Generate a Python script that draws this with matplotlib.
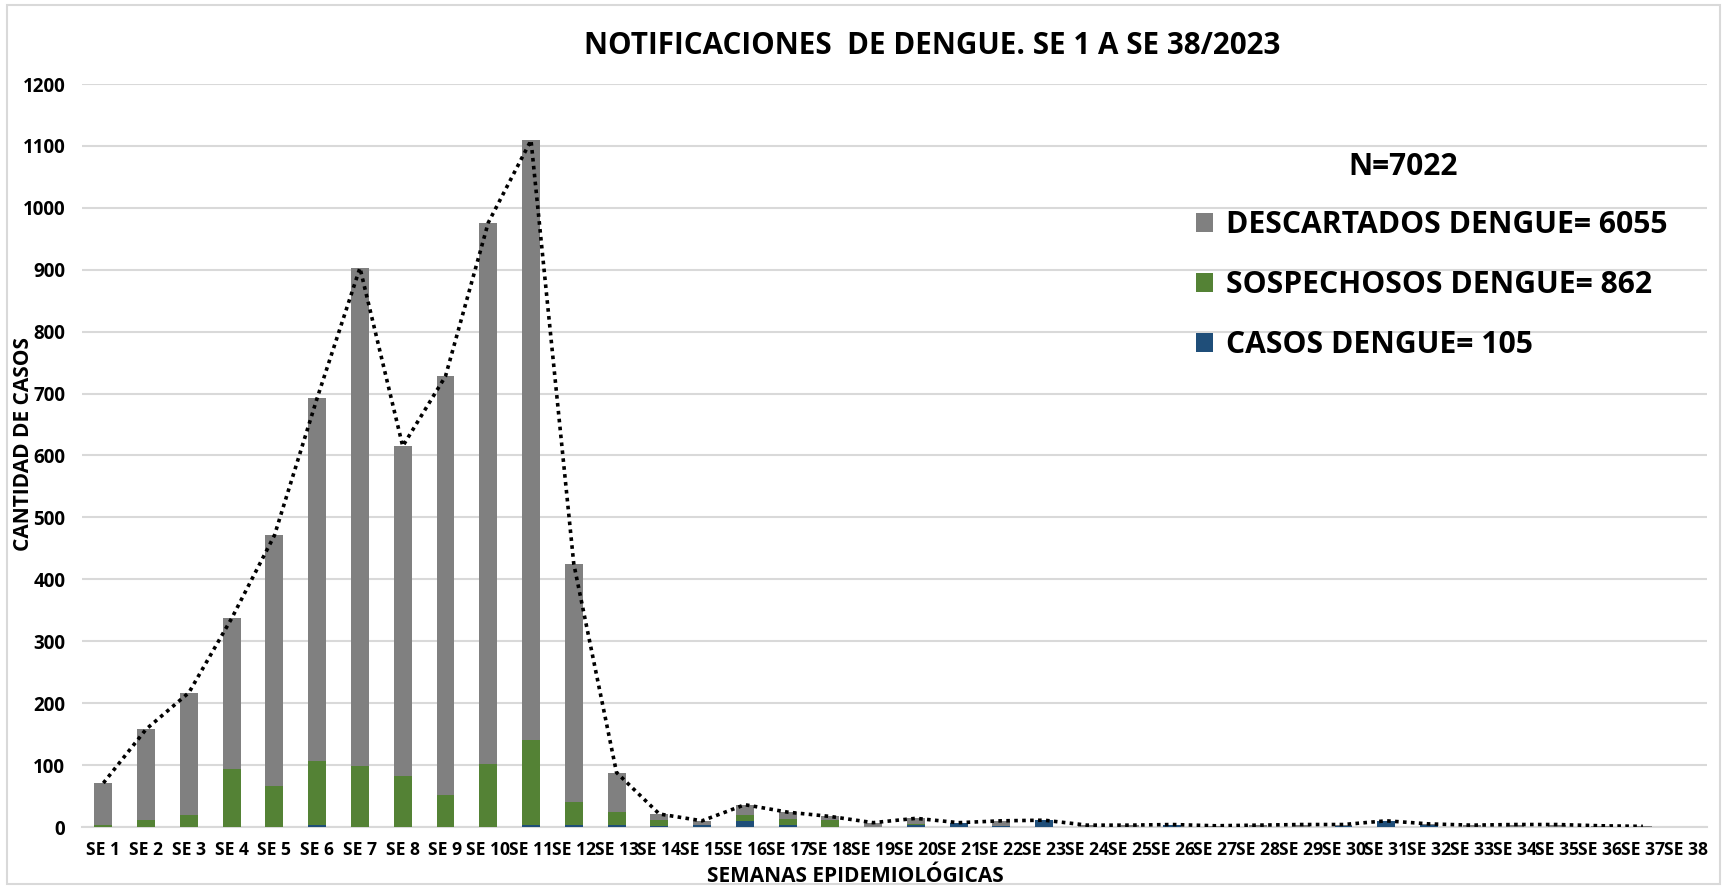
"""
Notificaciones de dengue SE 1 a SE 38/2023 - stacked bars + dotted total line.
"""

import numpy as np
import matplotlib
matplotlib.use("Agg")
import matplotlib.pyplot as plt
from matplotlib.patches import Rectangle, Patch

plt.rcParams['font.family'] = ['Open Sans', 'DejaVu Sans']

# --- data ---
semanas = [f"SE {i}" for i in range(1, 39)]

casos = [0, 0, 0, 0, 0, 4, 0, 0, 0, 0, 4, 4, 3, 2, 3, 9, 3, 0, 0, 3,
         7, 2, 11, 0, 0, 3, 0, 0, 0, 1, 9, 4, 0, 0, 0, 0, 0]
sospechosos = [4, 11, 19, 94, 67, 102, 98, 82, 51, 101, 136, 36, 21, 9, 1, 10, 10, 11, 0, 2,
               0, 0, 0, 0, 0, 0, 0, 0, 0, 0, 0, 0, 0, 0, 0, 0, 0]
descartados = [67, 147, 198, 243, 404, 587, 805, 533, 677, 875, 969, 385, 64, 10, 6, 17, 11, 6, 7, 9,
               0, 8, 0, 3, 3, 1, 2, 3, 4, 3, 1, 1, 3, 4, 4, 2, 1]

leg_labels = ["DESCARTADOS DENGUE= 6055", "SOSPECHOSOS DENGUE= 862", "CASOS DENGUE= 105"]
total_n = "N=7022"
yticks = list(range(0, 1300, 100))

GRAY = "#808080"
GREEN = "#548235"
BLUE = "#1f4e79"
GRID = "#d9d9d9"

W, H = 1724, 888
fig = plt.figure(figsize=(W / 100, H / 100), dpi=100)
fig.patch.set_facecolor("white")

# chart border like the Excel chart area
fig.patches.append(Rectangle((7 / W, 1 - 884 / H), (1720 - 7) / W, (884 - 5) / H,
                             transform=fig.transFigure, fill=False,
                             edgecolor=GRID, linewidth=1.5))

ax = fig.add_axes([82 / W, 1 - 827 / H, (1707 - 82) / W, (827 - 84) / H])

casos = np.array(casos)
sospechosos = np.array(sospechosos)
descartados = np.array(descartados)
totales = casos + sospechosos + descartados
x = np.arange(len(casos))

bw = 0.42
ax.bar(x, casos, width=bw, color=BLUE, zorder=3)
ax.bar(x, sospechosos, width=bw, bottom=casos, color=GREEN, zorder=3)
ax.bar(x, descartados, width=bw, bottom=casos + sospechosos, color=GRAY, zorder=3)

ax.plot(x, totales, color="black", linestyle=(0, (1, 1.2)), linewidth=2.6, zorder=4)

ax.set_xlim(-0.5, len(semanas) - 0.5)
ax.set_ylim(0, 1200)
ax.set_yticks(yticks)
ax.set_xticks(np.arange(len(semanas)))
ax.set_xticklabels(semanas, fontsize=12.6, fontweight="bold")
ax.set_yticklabels([str(v) for v in yticks], fontsize=13.5, fontweight="bold")
ax.tick_params(axis="both", length=0)
ax.tick_params(axis="x", pad=10)
ax.tick_params(axis="y", pad=12)

ax.grid(axis="y", color=GRID, linewidth=1.5, zorder=0)
ax.set_axisbelow(True)
for side in ["left", "right", "top"]:
    ax.spines[side].set_visible(False)
ax.spines["bottom"].set_color(GRID)
ax.spines["bottom"].set_linewidth(1.5)

fig.text(932 / W, 1 - 46 / H, "NOTIFICACIONES  DE DENGUE. SE 1 A SE 38/2023",
         ha="center", va="center", fontsize=21.3, fontweight="bold")
fig.text(855 / W, 1 - 876 / H, "SEMANAS EPIDEMIOLÓGICAS",
         ha="center", va="center", fontsize=15, fontweight="bold")
fig.text(24 / W, 1 - 444 / H, "CANTIDAD DE CASOS", rotation=90,
         ha="center", va="center", fontsize=15, fontweight="bold")

fig.text(1403 / W, 1 - 167 / H, total_n, ha="center", va="center",
         fontsize=21.5, fontweight="bold")

handles = [Patch(facecolor=GRAY), Patch(facecolor=GREEN), Patch(facecolor=BLUE)]
leg = fig.legend(handles, leg_labels, loc="upper left",
                 bbox_to_anchor=(1196 / W, 1 - 210 / H),
                 frameon=False, prop={"size": 21.7, "weight": "bold"},
                 handlelength=0.58, handleheight=0.58, handletextpad=0.4,
                 labelspacing=1.0, borderpad=0, borderaxespad=0)

fig.savefig("out.png", dpi=100, facecolor="white")
